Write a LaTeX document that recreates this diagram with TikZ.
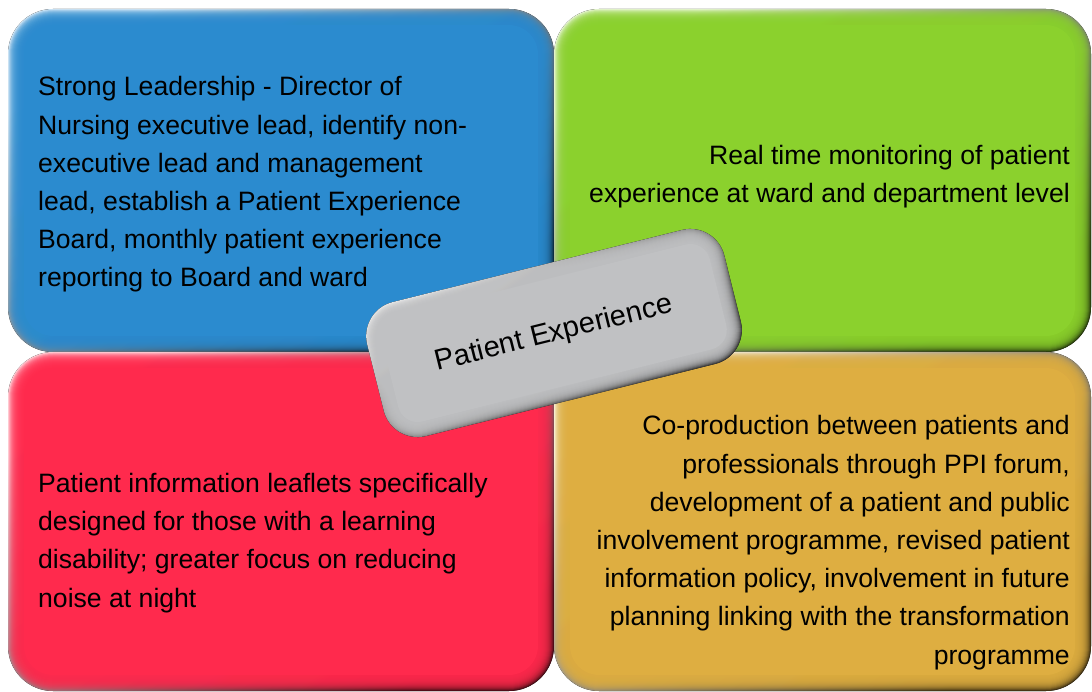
\documentclass[tikz,border=0pt]{standalone}
\usepackage{fontspec}
\setmainfont{Liberation Sans}
\usetikzlibrary{positioning}

\definecolor{leadblue}{RGB}{43,139,207}
\definecolor{timegreen}{RGB}{139,209,45}
\definecolor{leafletred}{RGB}{255,42,77}
\definecolor{coprodgold}{RGB}{222,174,65}
\definecolor{hubgray}{RGB}{192,193,195}

\begin{document}
\begin{tikzpicture}[x=1pt,y=-1pt]
		\tikzstyle{tiletext}=[inner sep=0pt,text=black,font=\fontsize{26.6}{38.2}\selectfont]
		\tikzstyle{hubtext}=[inner sep=0pt,text=black,font=\fontsize{29}{34}\selectfont]
		\useasboundingbox[fill=white] (0,0) rectangle (1092,692);
		% four bevelled tiles: light rim top left, dark rim bottom right
		\foreach \xa/\ya/\xb/\yb/\col in {8/9/554/352/leadblue, 554/9/1091/352/timegreen, 8/352/554/691/leafletred, 554/352/1091/691/coprodgold}
		{
			\fill[top color=\col!25!white, middle color=\col, bottom color=\col!30!black, shading angle=35, rounded corners=45pt] (\xa,\ya) rectangle (\xb,\yb);
			\foreach \d in {1,...,15}
				\fill[\col, opacity=0.22, rounded corners={(45-\d)*1pt}] (\xa+\d,\ya+\d) rectangle (\xb-\d,\yb-\d);
			\fill[\col, rounded corners=29pt] (\xa+16,\ya+16) rectangle (\xb-16,\yb-16);
		}
		% text blocks, placed by the baseline of their last line
		\node[tiletext, align=left, anchor=base west] (leadtext) at (38,287) {Strong Leadership - Director of\\Nursing executive lead, identify non-\\executive lead and management\\lead, establish a Patient Experience\\Board, monthly patient experience\\reporting to Board and ward};
		\node[tiletext, align=right, anchor=base east] (monitortext) at (1070,203) {Real time monitoring of patient\\experience at ward and department level};
		\node[tiletext, align=left, anchor=base west] (leaflettext) at (38,607) {Patient information leaflets specifically\\designed for those with a learning\\disability; greater focus on reducing\\noise at night};
		\node[tiletext, align=right, anchor=base east] (coprodtext) at (1070,664) {Co-production between patients and\\professionals through PPI forum,\\development of a patient and public\\involvement programme, revised patient\\information policy, involvement in future\\planning linking with the transformation\\programme};
		% tilted grey key in the middle
		\begin{scope}[shift={(554,333)}, rotate=14]
			\fill[top color=white!90!hubgray, middle color=hubgray, bottom color=black!85, shading angle=35, rounded corners=35pt] (-184,-69) rectangle (184,69);
			\foreach \d in {1,...,14}
				\fill[hubgray, opacity=0.22, rounded corners={(35-\d)*1pt}] (-184+\d,-69+\d) rectangle (184-\d,69-\d);
			\fill[hubgray, rounded corners=20pt] (-169,-54) rectangle (169,54);
		\end{scope}
		\node[hubtext, rotate=14] (hub) at (554,334) {Patient Experience};
\end{tikzpicture}
\end{document}
